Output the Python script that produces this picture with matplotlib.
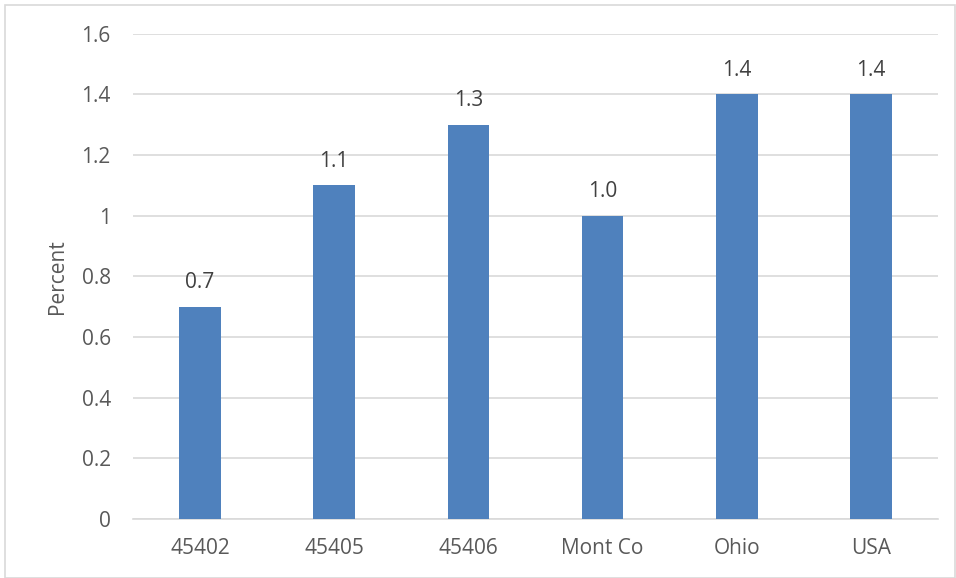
import matplotlib.pyplot as plt
from matplotlib.patches import Rectangle

areas = ["45402", "45405", "45406", "Mont Co", "Ohio", "USA"]
percent = [0.7, 1.1, 1.3, 1.0, 1.4, 1.4]
yticks = [0, 0.2, 0.4, 0.6, 0.8, 1, 1.2, 1.4, 1.6]
ytick_labels = ["0", "0.2", "0.4", "0.6", "0.8", "1", "1.2", "1.4", "1.6"]

plt.rcParams["font.family"] = ["Open Sans", "DejaVu Sans"]
text_color = "#595959"
grid_color = "#d9d9d9"

fig = plt.figure(figsize=(9.56, 5.78), dpi=100)
ax = fig.add_axes([0.1391, 0.1021, 0.8421, 0.8396])

# outer chart border
fig.patches.append(Rectangle((5 / 956, 0), 950 / 956, 573 / 578, transform=fig.transFigure,
                             fill=False, edgecolor=grid_color, linewidth=1.2))

xs = range(len(areas))
ax.bar(xs, percent, width=0.31, color="#4F81BD", zorder=3)

for x, v in zip(xs, percent):
    ax.annotate(f"{v:.1f}", (x, v), xytext=(0, 17.5), textcoords="offset points",
                ha="center", va="center", fontsize=15, color="#404040")

ax.set_xlim(-0.5, len(areas) - 0.5)
ax.set_ylim(0, 1.6)
ax.set_yticks(yticks)
ax.set_yticklabels(ytick_labels)
ax.set_xticks(list(xs))
ax.set_xticklabels(areas)
ax.yaxis.grid(True, color=grid_color, linewidth=1.2, zorder=0)
ax.tick_params(axis="both", length=0, labelsize=15, labelcolor=text_color)
ax.tick_params(axis="y", pad=16)
ax.tick_params(axis="x", pad=14)

for side in ["top", "right", "left"]:
    ax.spines[side].set_visible(False)
ax.spines["bottom"].set_color(grid_color)
ax.spines["bottom"].set_linewidth(1.2)

ax.set_ylabel("Percent", fontsize=15, color=text_color)
ax.yaxis.set_label_coords(-0.081, 0.5)

fig.savefig("out.png", dpi=100)
